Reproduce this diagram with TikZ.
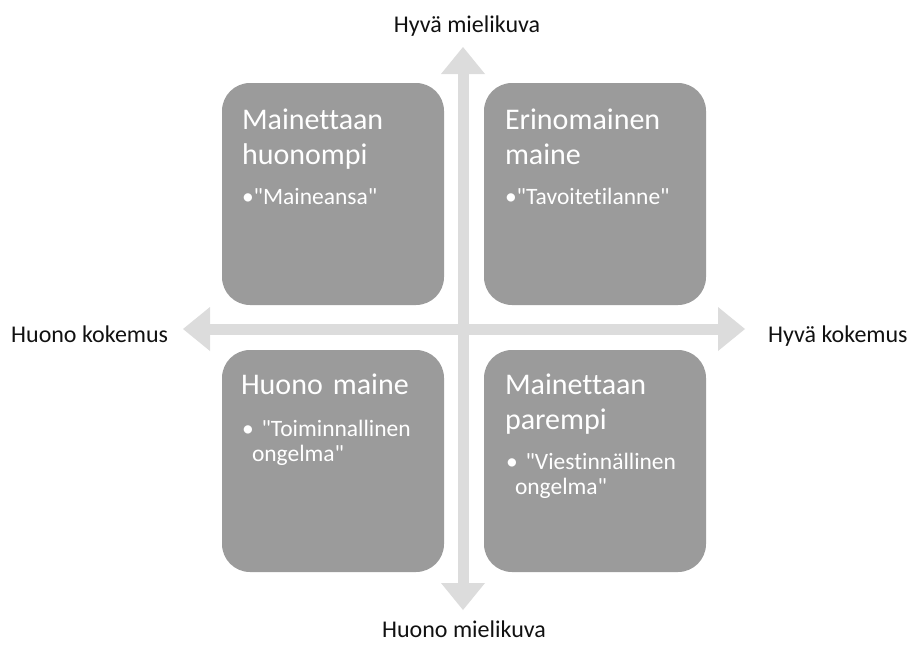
\documentclass[tikz,border=0pt]{standalone}
\usepackage{fontspec}
\setmainfont[Ligatures=NoCommon]{Carlito}
\usetikzlibrary{arrows.meta}
\definecolor{boxgray}{HTML}{9B9B9B}
\definecolor{axisgray}{HTML}{DCDCDC}
\definecolor{labelblack}{HTML}{111111}
\newcommand{\qt}[1]{\textquotedbl#1\textquotedbl}
\tikzset{
	quad/.style={fill=boxgray, rounded corners=28pt, minimum width=222pt, minimum height=222pt, inner sep=0pt},
	heading/.style={text=white, font=\fontsize{30}{34.5}\selectfont, text width=195pt, align=left, inner sep=0pt, anchor=base west},
	point/.style={text=white, font=\fontsize{23.5}{25}\selectfont, text width=198pt, align=left, inner sep=0pt, anchor=base west},
	axislabel/.style={text=labelblack, font=\fontsize{24}{28}\selectfont, inner sep=0pt},
	axistip/.tip={Triangle[width=44pt 0 0,length=27pt 0 0,line width=0pt]},
	axis/.style={draw=axisgray, line width=11pt, axistip-axistip}
}
\begin{document}
\begin{tikzpicture}[x=1pt,y=-1pt]
			\useasboundingbox (0,0) rectangle (912,648);
			\coordinate (north) at (463,47);
			\coordinate (south) at (463,610);
			\coordinate (west) at (183,329);
			\coordinate (east) at (745,329);
			\draw [axis] (north) -- (south);
			\draw [axis] (west) -- (east);
			\node [axislabel,anchor=base] (goodimage) at (467,32) {Hyvä mielikuva};
			\node [axislabel,anchor=base] (badimage) at (464,637) {Huono mielikuva};
			\node [axislabel,anchor=base west] (badexp) at (11,342) {Huono kokemus};
			\node [axislabel,anchor=base west] (goodexp) at (768,342) {Hyvä kokemus};
			\node [quad] (trap) at (333,194) {};
			\node [quad] (ideal) at (595,194) {};
			\node [quad] (bad) at (333,461) {};
			\node [quad] (better) at (595,461) {};
			\node [heading] (traphead) at ([shift={(20,47)}]trap.north west) {Mainettaan\\huonompi};
			\node [point] (trappoint) at ([shift={(20,122)}]trap.north west) {•\qt{Maineansa}};
			\node [heading] (idealhead) at ([shift={(21,47)}]ideal.north west) {Erinomainen\\maine};
			\node [point] (idealpoint) at ([shift={(21,122)}]ideal.north west) {•\qt{Tavoitetilanne}};
			\node [heading] (badhead) at ([shift={(19,45)}]bad.north west) {Huono maine};
			\node [point] (badpoint) at ([shift={(20,87)}]bad.north west) {• \textquotedbl Toiminnallinen\\\hspace*{10pt}ongelma\textquotedbl};
			\node [heading] (betterhead) at ([shift={(21,45)}]better.north west) {Mainettaan\\parempi};
			\node [point] (betterpoint) at ([shift={(22,120)}]better.north west) {• \textquotedbl Viestinnällinen\\\hspace*{9pt}ongelma\textquotedbl};
		\end{tikzpicture}
\end{document}
